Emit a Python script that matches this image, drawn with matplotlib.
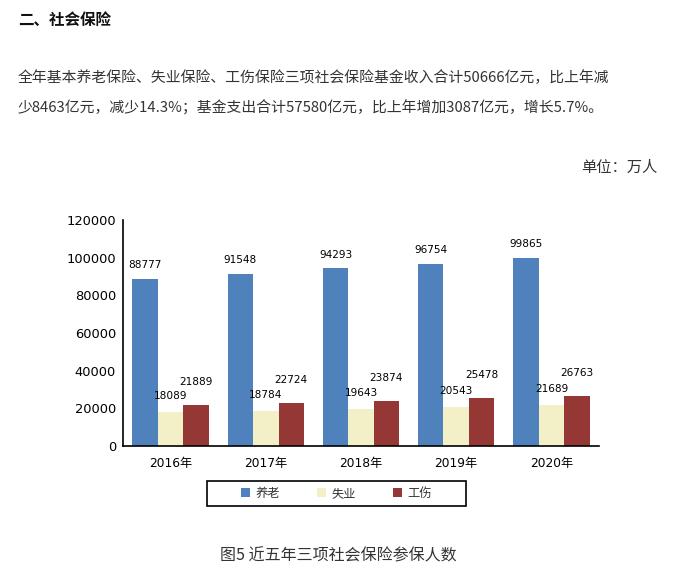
import matplotlib
matplotlib.use("Agg")
import matplotlib.pyplot as plt
from matplotlib.patches import Patch, Rectangle
import numpy as np

plt.rcParams['font.family'] = ['DejaVu Sans', 'Noto Sans CJK SC']

years = ["2016年", "2017年", "2018年", "2019年", "2020年"]
series_names = ["养老", "失业", "工伤"]
pension = [88777, 91548, 94293, 96754, 99865]
unemployment = [18089, 18784, 19643, 20543, 21689]
injury = [21889, 22724, 23874, 25478, 26763]
colors = ["#4F81BD", "#F3EFC6", "#953735"]
yticks = [0, 20000, 40000, 60000, 80000, 100000, 120000]

W, H = 681, 585
fig = plt.figure(figsize=(W / 100, H / 100), dpi=100)

def fx(px):
    return px / W

def fy(py):
    return 1 - py / H

cjk = ['Noto Sans CJK SC', 'DejaVu Sans']

# header texts
fig.text(fx(18), fy(20), "二、社会保险", fontsize=11.2, fontweight='bold',
         family=cjk, va='center', ha='left', color='#111111')
fig.text(fx(18), fy(78), "全年基本养老保险、失业保险、工伤保险三项社会保险基金收入合计50666亿元，比上年减",
         fontsize=10.7, family=cjk, va='center', ha='left', color='#333333')
fig.text(fx(18), fy(108), "少8463亿元，减少14.3%；基金支出合计57580亿元，比上年增加3087亿元，增长5.7%。",
         fontsize=10.7, family=cjk, va='center', ha='left', color='#333333')
fig.text(fx(657), fy(167), "单位：万人", fontsize=11, family=cjk, va='center',
         ha='right', color='#333333')

ax = fig.add_axes([fx(123), fy(446), fx(599) - fx(123), fy(220) - fy(446)])
x = np.arange(len(years))
bw = 0.267
data = [pension, unemployment, injury]
offsets = [-bw, 0, bw]
label_off = [10, 11.5, 16.5]
for vals, off, col, lo, name in zip(data, offsets, colors, label_off, series_names):
    ax.bar(x + off, vals, width=bw, color=col, label=name)
    for xi, v in zip(x + off, vals):
        ax.annotate(f"{v}", (xi, v), xytext=(0, lo), textcoords='offset points',
                    ha='center', va='center', fontsize=7.6, color='black')

ax.set_xlim(-0.5, len(years) - 0.5)
ax.set_ylim(0, 120000)
ax.set_yticks(yticks)
ax.set_yticklabels([str(t) for t in yticks], fontsize=9.4)
ax.set_xticks(x)
ax.set_xticklabels(years, fontsize=8.8)
ax.tick_params(length=0, pad=5)
ax.tick_params(axis='x', pad=8)
for s in ['top', 'right']:
    ax.spines[s].set_visible(False)
for s in ['left', 'bottom']:
    ax.spines[s].set_color('black')
    ax.spines[s].set_linewidth(1.2)

# legend
handles = [Patch(facecolor=c, edgecolor='none') for c in colors]
leg = fig.legend(handles, series_names, loc='center', ncol=3,
                 bbox_to_anchor=(fx(336.5), fy(493.5)), frameon=False,
                 prop={'family': cjk, 'size': 8.8}, handlelength=0.75,
                 handleheight=0.75, handletextpad=0.45, columnspacing=3.0)
for t in leg.get_texts():
    t.set_color('#333333')
fig.patches.append(Rectangle((fx(207), fy(506)), fx(466) - fx(207), fy(481) - fy(506),
                             transform=fig.transFigure, fill=False,
                             edgecolor='black', linewidth=1.2))

fig.text(fx(338), fy(556), "图5 近五年三项社会保险参保人数", fontsize=11.5, family=cjk,
         ha='center', va='center', color='#333333')

fig.savefig("out.png", dpi=100)
